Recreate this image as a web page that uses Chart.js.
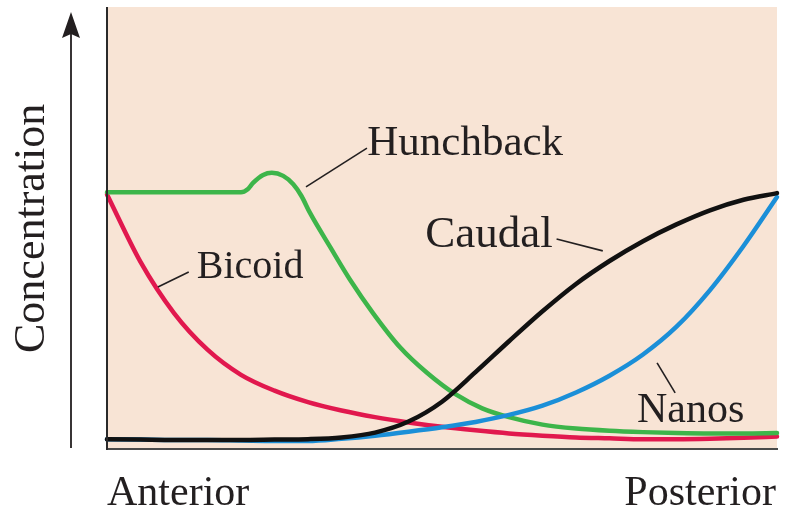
<!DOCTYPE html>
<html>
<head>
<meta charset="utf-8">
<script src="https://cdn.jsdelivr.net/npm/chart.js@4"></script>
<style>
  body { margin: 0; background: #fff; }
</style>
</head>
<body>
<canvas id="myChart" width="786" height="509"></canvas>
<script>
// positions along the embryo, anterior (0) to posterior (100)
const positions = [0, 5, 10, 15, 20, 25, 30, 35, 40, 45, 50, 55, 60, 65, 70, 75, 80, 85, 90, 95, 100];
const bicoid = [57.5, 42.2, 30.6, 22.3, 16.6, 13.0, 10.4, 8.5, 7.0, 5.8, 4.8, 4.0, 3.3, 2.8, 2.4, 2.2, 2.0, 2.0, 2.1, 2.3, 2.6];
const caudal = [2.0, 1.9, 1.8, 1.8, 1.8, 1.9, 2.0, 2.4, 3.5, 6.0, 10.5, 17.2, 24.2, 31.0, 37.2, 42.4, 46.9, 50.7, 53.9, 56.3, 57.8];
const nanos = [2.0, 1.9, 1.8, 1.8, 1.7, 1.6, 1.6, 2.1, 2.8, 3.7, 4.7, 5.9, 7.5, 9.6, 12.6, 16.4, 21.2, 27.5, 35.8, 45.8, 56.9];

// hunchback has a small bump, so it gets a finer grid
const hunchbackPositions = [0, 5, 10, 15, 20, 21, 21.8, 23.3, 24.6, 26.3, 27.8, 29, 30.3, 33.3, 36.3, 39.7, 43.7, 47.8, 52, 56, 60, 65, 70, 75, 80, 85, 90, 95, 100];
const hunchback = [58.0, 58.0, 58.0, 58.0, 58.0, 58.7, 60.1, 61.9, 62.4, 61.7, 59.8, 57.2, 53.3, 45.6, 38.1, 30.6, 22.9, 17.0, 12.2, 9.0, 7.0, 5.3, 4.4, 3.9, 3.6, 3.4, 3.3, 3.3, 3.4];

const pts = (xs, ys) => xs.map((x, i) => ({ x: x, y: ys[i] }));

const FONT = '"Liberation Serif", "DejaVu Serif", serif';
const INK = "#231f20";

const ctx = document.getElementById("myChart").getContext("2d");

const myChart = new Chart(ctx, {
  type: "line",
  data: {
    datasets: [
      { label: "Caudal", data: pts(positions, caudal), borderColor: "#111111" },
      { label: "Nanos", data: pts(positions, nanos), borderColor: "#1b8fd8" },
      { label: "Hunchback", data: pts(hunchbackPositions, hunchback), borderColor: "#3db54a" },
      { label: "Bicoid", data: pts(positions, bicoid), borderColor: "#e1184e" }
    ]
  },
  options: {
    responsive: false,
    animation: false,
    clip: false,
    layout: { padding: { left: 107, right: 9, top: 7, bottom: 61 } },
    elements: {
      line: { borderWidth: 4.5, cubicInterpolationMode: "monotone", borderCapStyle: "round" },
      point: { radius: 0 }
    },
    scales: {
      x: { type: "linear", min: 0, max: 100, display: false },
      y: { min: 0, max: 100, display: false }
    },
    plugins: {
      legend: { display: false },
      tooltip: { enabled: false }
    }
  },
  plugins: [
    {
      beforeDatasetsDraw: chart => {
        const a = chart.chartArea;
        const c = chart.ctx;
        c.save();
        c.fillStyle = "#f8e4d5";
        c.fillRect(a.left, a.top, a.right - a.left, a.bottom - a.top + 1);
        c.restore();
      }
    },
    {
      afterDraw: chart => {
        const a = chart.chartArea;
        const c = chart.ctx;
        const sx = chart.scales.x, sy = chart.scales.y;
        const P = (x, y) => [sx.getPixelForValue(x), sy.getPixelForValue(y)];

        c.save();
        // axes frame
        c.strokeStyle = "#4a4a4a";
        c.lineWidth = 2;
        c.beginPath();
        c.moveTo(a.left, a.bottom + 1);
        c.lineTo(a.right + 1, a.bottom + 1);
        c.stroke();
        c.strokeStyle = "#2a2a2a";
        c.beginPath();
        c.moveTo(a.left, a.top);
        c.lineTo(a.left, a.bottom + 2);
        c.stroke();

        // concentration arrow
        c.strokeStyle = INK;
        c.fillStyle = INK;
        c.lineWidth = 1.8;
        c.beginPath();
        c.moveTo(71, 448);
        c.lineTo(71, 34);
        c.stroke();
        c.beginPath();
        c.moveTo(71, 12);
        c.lineTo(62, 38);
        c.lineTo(71, 34);
        c.lineTo(80, 38);
        c.closePath();
        c.fill();

        // leader lines
        c.lineWidth = 1.6;
        const lead = (x1, y1, x2, y2) => {
          const p = P(x1, y1), q = P(x2, y2);
          c.beginPath();
          c.moveTo(p[0], p[1]);
          c.lineTo(q[0], q[1]);
          c.stroke();
        };
        lead(29.7, 59.2, 38.8, 68.0);  // Hunchback
        lead(7.6, 36.5, 12.2, 39.9);   // Bicoid
        lead(67.1, 47.4, 74.0, 44.7);  // Caudal
        lead(82.1, 19.3, 84.8, 12.5);  // Nanos

        // labels
        c.fillStyle = INK;
        c.textBaseline = "alphabetic";
        c.textAlign = "left";
        c.font = "43px " + FONT;
        let p = P(38.7, 66.4); c.fillText("Hunchback", p[0] + 1, p[1]);
        c.font = "45px " + FONT;
        p = P(47.5, 45.6); c.fillText("Caudal", p[0], p[1]);
        c.font = "42px " + FONT;
        p = P(79.1, 5.9); c.fillText("Nanos", p[0], p[1]);
        c.font = "40px " + FONT;
        p = P(13.4, 38.5); c.fillText("Bicoid", p[0], p[1]);

        c.font = "42px " + FONT;
        c.fillText("Anterior", 107, 505);
        c.textAlign = "right";
        c.fillText("Posterior", 776, 505);

        c.font = "44px " + FONT;
        c.translate(44, 353);
        c.rotate(-Math.PI / 2);
        c.textAlign = "left";
        c.fillText("Concentration", 0, 0);
        c.restore();
      }
    }
  ]
});
</script>
</body>
</html>
